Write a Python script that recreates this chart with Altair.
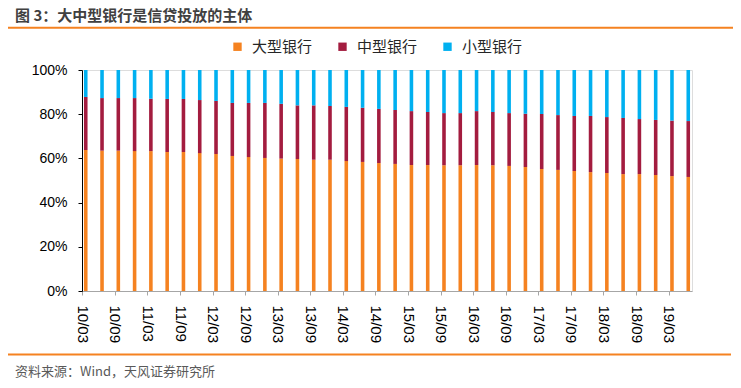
import altair as alt
import pandas as pd

categories = [
    "10/03", "10/06", "10/09", "10/12", "11/03", "11/06", "11/09", "11/12",
    "12/03", "12/06", "12/09", "12/12", "13/03", "13/06", "13/09", "13/12",
    "14/03", "14/06", "14/09", "14/12", "15/03", "15/06", "15/09", "15/12",
    "16/03", "16/06", "16/09", "16/12", "17/03", "17/06", "17/09", "17/12",
    "18/03", "18/06", "18/09", "18/12", "19/03", "19/06",
]
tick_labels = categories[::2]

large = [63.8, 63.5, 63.5, 63.3, 63.3, 62.9, 62.9, 62.4, 62.0, 61.1, 60.6, 60.2, 59.9,
         59.7, 59.4, 59.4, 58.8, 58.4, 57.9, 57.5, 57.0, 57.0, 56.9, 56.9, 57.0, 56.9,
         56.6, 56.1, 55.2, 54.8, 54.3, 53.8, 53.4, 52.9, 52.9, 52.5, 52.0, 51.6]
medium = [24.0, 23.8, 23.8, 24.0, 23.7, 24.0, 24.0, 24.0, 24.0, 24.0, 24.5, 24.9, 24.8,
          24.3, 24.6, 24.3, 24.5, 24.5, 24.5, 24.4, 24.4, 24.0, 23.6, 23.6, 24.4, 24.1,
          23.9, 24.1, 24.9, 24.8, 24.9, 25.4, 25.3, 25.4, 24.9, 24.9, 25.1, 25.3]
small = [12.2, 12.7, 12.7, 12.7, 13.0, 13.1, 13.1, 13.6, 14.0, 14.9, 14.9, 14.9, 15.3,
         16.0, 16.0, 16.3, 16.7, 17.1, 17.6, 18.1, 18.6, 19.0, 19.5, 19.5, 18.6, 19.0,
         19.5, 19.8, 19.9, 20.4, 20.8, 20.8, 21.3, 21.7, 22.2, 22.6, 22.9, 23.1]

series_names = ["大型银行", "中型银行", "小型银行"]
series_colors = ["#F58220", "#A31C3F", "#00B0F0"]
title_text = "图 3：大中型银行是信贷投放的主体"
source_text = "资料来源：Wind，天风证券研究所"

rows = []
for i, c in enumerate(categories):
    for k, (name, vals) in enumerate(zip(series_names, [large, medium, small])):
        rows.append({"period": c, "series": name, "value": vals[i] / 100.0, "order": k})
df = pd.DataFrame(rows)

W, H = 610, 221
CJK = "Noto Sans CJK SC"
LAT = "Liberation Sans"

bars = alt.Chart(df).mark_bar().encode(
    x=alt.X("period:N", sort=categories,
            scale=alt.Scale(paddingInner=0.78, paddingOuter=0.12),
            axis=alt.Axis(values=tick_labels, title=None, labelAngle=90,
                          labelAlign="left", labelBaseline="middle",
                          labelFont=LAT, labelFontSize=15, labelColor="#000000",
                          labelPadding=10, tickSize=4, tickColor="#A6A6A6",
                          domainColor="#A6A6A6", bandPosition=0.5, tickOffset=-3.4)),
    y=alt.Y("value:Q", stack="zero", scale=alt.Scale(domain=[0, 1], nice=False),
            axis=alt.Axis(values=[0, 0.2, 0.4, 0.6, 0.8, 1.0], format="%", title=None,
                          labelFont=LAT, labelFontSize=14, labelColor="#000000",
                          labelPadding=11, tickSize=4, tickColor="#000000",
                          domainColor="#000000", grid=False)),
    color=alt.Color("series:N",
                    scale=alt.Scale(domain=series_names, range=series_colors),
                    legend=alt.Legend(title=None, orient="none", direction="horizontal",
                                      legendX=148, legendY=-31, symbolType="square",
                                      symbolSize=70, symbolStrokeWidth=0,
                                      labelFont=CJK, labelFontSize=15,
                                      labelColor="#262626", labelOffset=7,
                                      columnPadding=22, padding=0)),
    order=alt.Order("order:Q"),
)

deco = alt.Data(values=[{"a": 1}])

title = alt.Chart(deco).mark_text(
    text=title_text, font=CJK, fontSize=15, fontWeight="bold", color="#404040",
    align="left", baseline="middle"
).encode(x=alt.value(-67), y=alt.value(-54))

top_line = alt.Chart(deco).mark_rule(color="#F58220", strokeWidth=2).encode(
    x=alt.value(-74), x2=alt.value(651), y=alt.value(-42.3))

bottom_line = alt.Chart(deco).mark_rule(color="#F58220", strokeWidth=2).encode(
    x=alt.value(-74), x2=alt.value(649), y=alt.value(284.5))

source = alt.Chart(deco).mark_text(
    text=source_text, font=CJK, fontSize=13, color="#595959",
    align="left", baseline="middle"
).encode(x=alt.value(-67), y=alt.value(302))

chart = alt.layer(bars, title, top_line, bottom_line, source).properties(
    width=W, height=H,
    autosize=alt.AutoSizeParams(type="none"),
    padding={"left": 74, "top": 62, "right": 41, "bottom": 89},
).configure_view(stroke=None).configure(background="#ffffff")

chart.save("out.html", embed_options={"renderer": "svg", "actions": False})
